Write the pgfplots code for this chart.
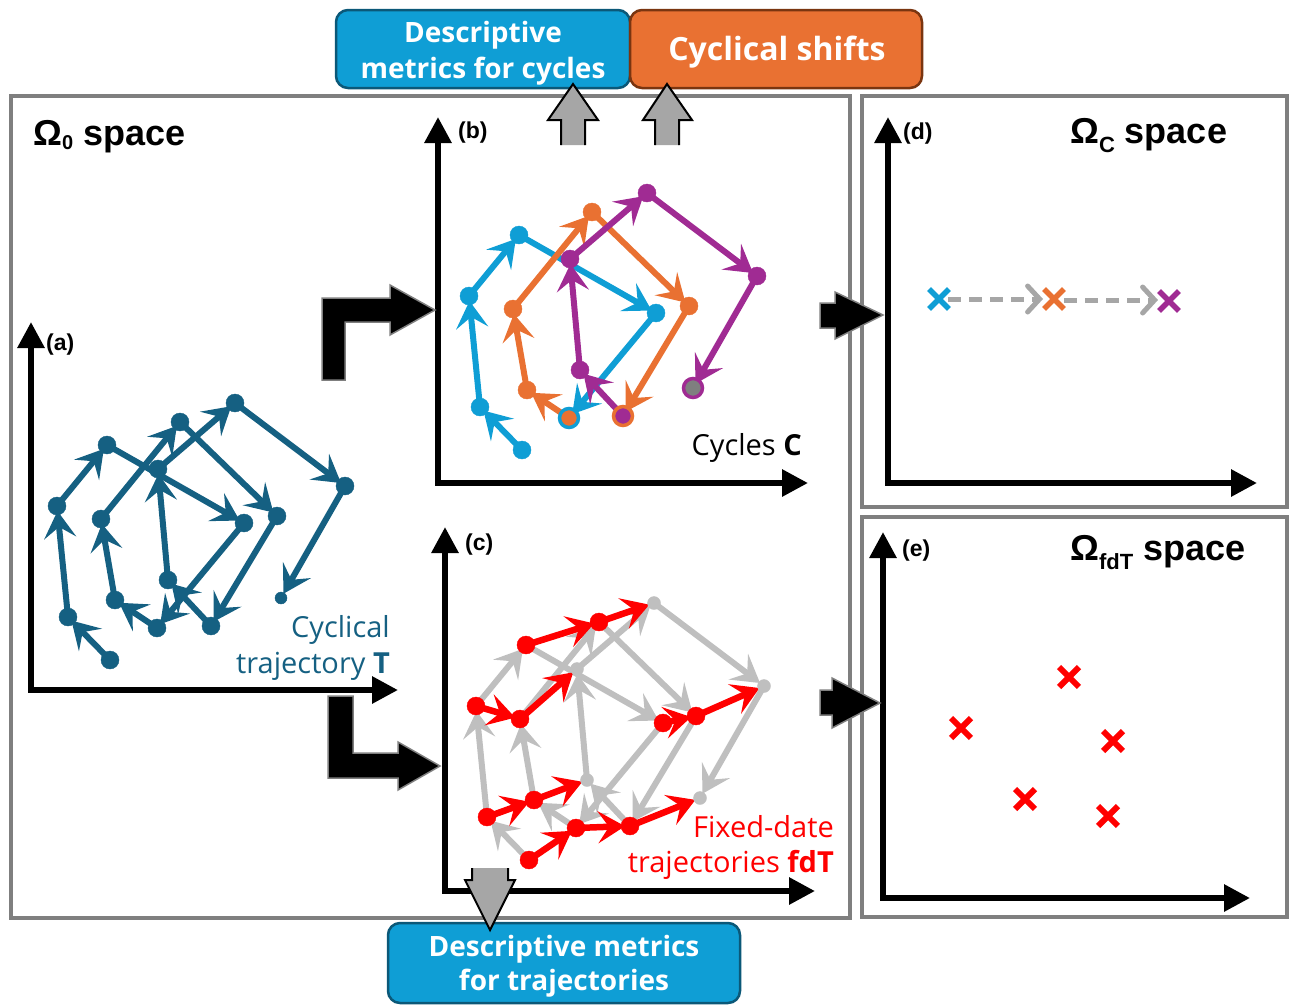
\documentclass[border=0pt]{standalone}
\usepackage{pgfplots}
\pgfplotsset{compat=1.18}
\usepackage{pgfplotstable}
\usetikzlibrary{arrows.meta}
\usepackage{fontspec}
\setmainfont{Open Sans}
\newfontfamily\headfont{Liberation Sans}

\definecolor{tcol}{HTML}{156082}
\definecolor{cblue}{HTML}{0F9ED5}
\definecolor{corange}{HTML}{E97132}
\definecolor{cpurple}{HTML}{A02B93}
\definecolor{lgray}{HTML}{BFBFBF}
\definecolor{mgray}{HTML}{A6A6A6}
\definecolor{fgray}{HTML}{7F7F7F}
\definecolor{bbord}{HTML}{0B5878}
\definecolor{obord}{HTML}{7A3510}

% trajectory steps: start point (x,y) and step (u,v) to the next point
\pgfplotstableread{
x y u v
110 660 -42 -43
68 617 -11 -111
57 506 50 -61
107 445 137 78
244 523 -87 105
}\cycleA
\pgfplotstableread{
x y u v
157 628 -42 -28
115 600 -14 -81
101 519 79 -97
180 422 97 94
277 516 -66 110
}\cycleB
\pgfplotstableread{
x y u v
211 626 -43 -46
168 580 -10 -111
158 469 77 -66
235 403 110 83
345 486 -64 112
}\cycleC
% fixed-date trajectories: same position within successive cycles
\pgfplotstableread{
x y u v
110 660 47 -32
157 628 54 -2
211 626 70 -28
68 617 47 -17
115 600 53 -20
57 506 44 13
101 519 57 -50
107 445 73 -23
180 422 55 -19
244 523 33 -7
277 516 68 -30
}\fixdate

\pgfplotsset{
  traj/.style={line width=6pt, -{Stealth[length=27pt,width=32pt,inset=11pt]}, shorten >=5pt,
    quiver={u=\thisrow{u},v=\thisrow{v}}},
  axarrow/.style={black, line width=6pt, line join=miter,
    {Triangle[length=26pt,width=26pt]}-{Triangle[length=26pt,width=26pt]}},
  dot/.style={only marks, mark=*, mark size=9pt},
  cross/.style={only marks, mark=x, mark size=14pt, line width=5.5pt},
}
\tikzset{
  blockarrow/.style={fill=black, draw=fgray, line width=1.5pt},
  uparrow/.style={fill=mgray, draw=black, line width=2pt},
  boxtext/.style={white, font=\bfseries\fontsize{28}{28}\selectfont, anchor=base, inner sep=0pt},
  lbl/.style={font=\headfont\bfseries\fontsize{23}{23}\selectfont, anchor=west, inner sep=0pt},
  ttl/.style={font=\headfont\bfseries\fontsize{36}{36}\selectfont, anchor=base west, inner sep=0pt},
  body/.style={font=\fontsize{29}{29}\selectfont, anchor=base east, inner sep=0pt},
}

\begin{document}
\begin{tikzpicture}
\begin{axis}[x=1pt, y=1pt, xmin=0, xmax=1290, ymin=0, ymax=1005, y dir=reverse,
  hide axis, clip=false]
\path (axis cs:0,0) rectangle (axis cs:1290,1005);

% frames of the three spaces
\draw[fgray, line width=4.5pt] (axis cs:11,96) rectangle (axis cs:850,918);
\draw[fgray, line width=4.5pt] (axis cs:862,96) rectangle (axis cs:1287,507);
\draw[fgray, line width=4.5pt] (axis cs:862,517) rectangle (axis cs:1287,917);

% titles
\node[ttl] at (axis cs:33,145) {Ω\raisebox{-4pt}{\fontsize{20}{20}\selectfont 0} space};
\node[ttl] at (axis cs:1070,143) {Ω\raisebox{-9pt}{\fontsize{22}{22}\selectfont C} space};
\node[ttl] at (axis cs:1070,560) {Ω\raisebox{-9pt}{\fontsize{22}{22}\selectfont fdT} space};

% axes of the five panels
\addplot[axarrow] coordinates {(31,322) (31,690) (398,690)};
\addplot[axarrow] coordinates {(438,117) (438,483) (808,483)};
\addplot[axarrow] coordinates {(445,527) (445,891) (815,891)};
\addplot[axarrow] coordinates {(888,117) (888,483) (1257,483)};
\addplot[axarrow] coordinates {(883,532) (883,898) (1250,898)};
\node[lbl] at (axis cs:46,345) {(a)};
\node[lbl] at (axis cs:458,133) {(b)};
\node[lbl] at (axis cs:465,545) {(c)};
\node[lbl] at (axis cs:903,134) {(d)};
\node[lbl] at (axis cs:902,551) {(e)};

% (a) cyclical trajectory
\addplot[traj, tcol] table[x=x,y=y] {\cycleA};
\addplot[traj, tcol] table[x=x,y=y] {\cycleB};
\addplot[traj, tcol] table[x=x,y=y] {\cycleC};
\addplot[dot, tcol] table[x=x,y=y] {\cycleA};
\addplot[dot, tcol] table[x=x,y=y] {\cycleB};
\addplot[dot, tcol] table[x=x,y=y] {\cycleC};
\addplot[dot, mark size=6pt, tcol] coordinates {(281,598)};
\node[body, tcol] at (axis cs:390,637) {Cyclical};
\node[body, tcol] at (axis cs:390,673) {trajectory \textbf{T}};

% (b) cycles
\addplot[traj, cblue] table[x expr=\thisrow{x}+412, y expr=\thisrow{y}-210] {\cycleA};
\addplot[dot, cblue] table[x expr=\thisrow{x}+412, y expr=\thisrow{y}-210] {\cycleA};
\addplot[traj, corange] table[x expr=\thisrow{x}+412, y expr=\thisrow{y}-210] {\cycleB};
\addplot[dot, corange] table[x expr=\thisrow{x}+412, y expr=\thisrow{y}-210] {\cycleB};
\addplot[traj, cpurple] table[x expr=\thisrow{x}+412, y expr=\thisrow{y}-210] {\cycleC};
\addplot[dot, cpurple] table[x expr=\thisrow{x}+412, y expr=\thisrow{y}-210] {\cycleC};
\addplot[dot, mark size=9.5pt, mark options={fill=corange, draw=cblue, line width=3.5pt}] coordinates {(569,418)};
\addplot[dot, mark size=9.5pt, mark options={fill=cpurple, draw=corange, line width=3.5pt}] coordinates {(623,416)};
\addplot[dot, mark size=9.5pt, mark options={fill=fgray, draw=cpurple, line width=3.5pt}] coordinates {(693,388)};
\node[body, black] at (axis cs:802,455) {Cycles \textbf{C}};

% (c) fixed-date trajectories
\addplot[traj, lgray] table[x expr=\thisrow{x}+419, y expr=\thisrow{y}+200] {\cycleA};
\addplot[traj, lgray] table[x expr=\thisrow{x}+419, y expr=\thisrow{y}+200] {\cycleB};
\addplot[traj, lgray] table[x expr=\thisrow{x}+419, y expr=\thisrow{y}+200] {\cycleC};
\addplot[dot, mark size=6.5pt, lgray] table[x expr=\thisrow{x}+419, y expr=\thisrow{y}+200] {\cycleA};
\addplot[dot, mark size=6.5pt, lgray] table[x expr=\thisrow{x}+419, y expr=\thisrow{y}+200] {\cycleB};
\addplot[dot, mark size=6.5pt, lgray] table[x expr=\thisrow{x}+419, y expr=\thisrow{y}+200] {\cycleC};
\addplot[dot, mark size=6.5pt, lgray] coordinates {(700,798)};
\addplot[traj, red, line width=6.5pt] table[x expr=\thisrow{x}+419, y expr=\thisrow{y}+200] {\fixdate};
\addplot[dot, red] table[x expr=\thisrow{x}+419, y expr=\thisrow{y}+200] {\fixdate};
\node[body, red] at (axis cs:834,837) {Fixed-date};
\node[body, red] at (axis cs:834,872) {trajectories \textbf{fdT}};

% (d) cycles as points, with the cyclical shifts between them
\addplot[mgray, line width=5pt, dash pattern=on 13pt off 8pt,
  -{Straight Barb[length=12pt,width=26pt,line cap=round]}] coordinates {(948,299) (1043,299)};
\addplot[mgray, line width=5pt, dash pattern=on 13pt off 8pt,
  -{Straight Barb[length=12pt,width=26pt,line cap=round]}] coordinates {(1064,300) (1158,300)};
\addplot[cross, cblue] coordinates {(939,299)};
\addplot[cross, corange] coordinates {(1054,299)};
\addplot[cross, cpurple] coordinates {(1169,301)};

% (e) fixed-date trajectories as points
\addplot[cross, line width=6pt, red] coordinates {
  (1069,677) (961,728) (1113,741) (1025,799) (1108,816)};

% block arrows between the spaces
\filldraw[blockarrow] (axis cs:322,380) -- (axis cs:322,298) -- (axis cs:390,298) -- (axis cs:390,285)
  -- (axis cs:435,310) -- (axis cs:390,335) -- (axis cs:390,322) -- (axis cs:345,322) -- (axis cs:345,380) -- cycle;
\filldraw[blockarrow] (axis cs:328,696) -- (axis cs:328,778) -- (axis cs:398,778) -- (axis cs:398,790)
  -- (axis cs:440,766) -- (axis cs:398,742) -- (axis cs:398,753) -- (axis cs:353,753) -- (axis cs:353,696) -- cycle;
\filldraw[blockarrow] (axis cs:820,303) -- (axis cs:835,303) -- (axis cs:835,292) -- (axis cs:883,315)
  -- (axis cs:835,339) -- (axis cs:835,328) -- (axis cs:820,328) -- cycle;
\filldraw[blockarrow] (axis cs:820,690) -- (axis cs:832,690) -- (axis cs:832,678) -- (axis cs:880,703)
  -- (axis cs:832,728) -- (axis cs:832,715) -- (axis cs:820,715) -- cycle;

% metric boxes
\draw[fill=cblue, draw=bbord, line width=2.5pt, rounded corners=12pt] (axis cs:336,10) rectangle (axis cs:630,88);
\draw[fill=corange, draw=obord, line width=2.5pt, rounded corners=12pt] (axis cs:630,10) rectangle (axis cs:922,88);
\draw[fill=cblue, draw=bbord, line width=2.5pt, rounded corners=12pt] (axis cs:388,923) rectangle (axis cs:740,1003);
\node[boxtext] at (axis cs:483,42) {Descriptive};
\node[boxtext] at (axis cs:483,78) {metrics for cycles};
\node[boxtext, font=\bfseries\fontsize{32}{32}\selectfont] at (axis cs:777,60) {Cyclical shifts};
\node[boxtext] at (axis cs:564,956) {Descriptive metrics};
\node[boxtext] at (axis cs:564,990) {for trajectories};

\filldraw[uparrow] (axis cs:561,145) -- (axis cs:561,120) -- (axis cs:548,120) -- (axis cs:573,84)
  -- (axis cs:598,120) -- (axis cs:585,120) -- (axis cs:585,145);
\filldraw[uparrow] (axis cs:655,145) -- (axis cs:655,120) -- (axis cs:643,120) -- (axis cs:667,84)
  -- (axis cs:692,120) -- (axis cs:679,120) -- (axis cs:679,145);
\filldraw[uparrow] (axis cs:472,868) -- (axis cs:472,880) -- (axis cs:465,880) -- (axis cs:490,930)
  -- (axis cs:515,880) -- (axis cs:508,880) -- (axis cs:508,868);
\end{axis}
\end{tikzpicture}
\end{document}
